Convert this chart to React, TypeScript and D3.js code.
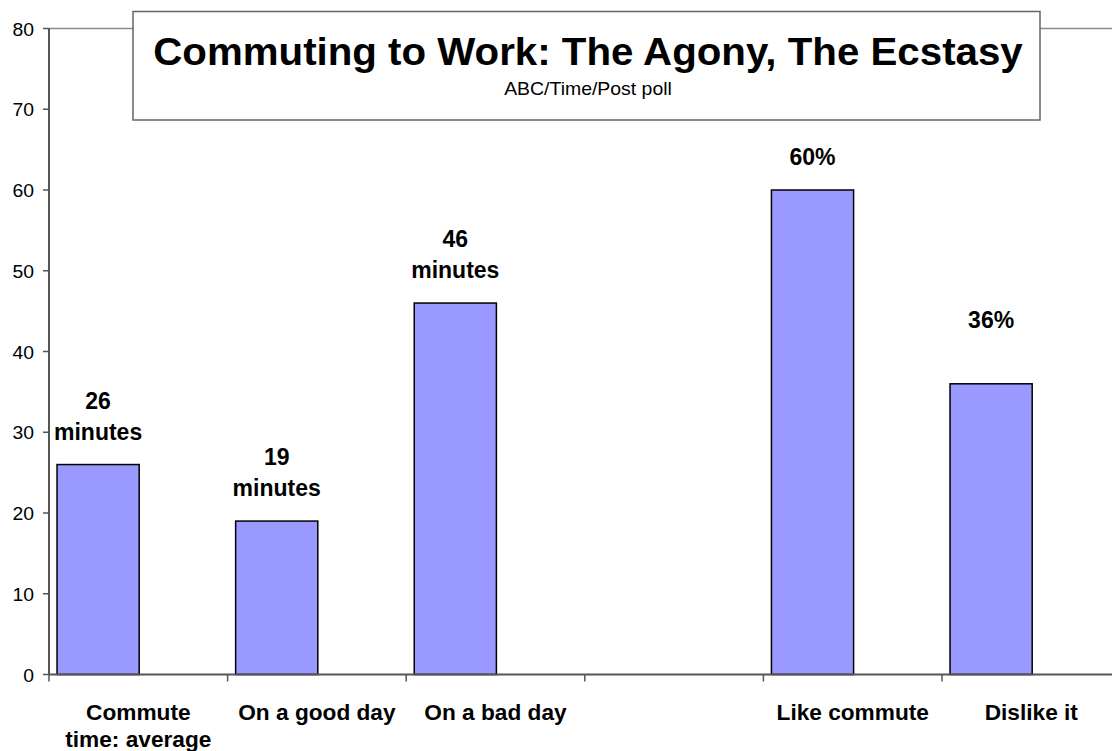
import React from "react";
import * as d3 from "d3";

const categories = ["Commute time: average", "On a good day", "On a bad day", "", "Like commute", "Dislike it"];
const categoryLines = [["Commute", "time: average"], ["On a good day"], ["On a bad day"], [], ["Like commute"], ["Dislike it"]];
const values: (number | null)[] = [26, 19, 46, null, 60, 36];
const dataLabels = [["26", "minutes"], ["19", "minutes"], ["46", "minutes"], [], ["60%"], ["36%", ""]];
const yTicks = [0, 10, 20, 30, 40, 50, 60, 70, 80];
const title = "Commuting to Work: The Agony, The Ecstasy";
const subtitle = "ABC/Time/Post poll";

const W = 1112;
const H = 751;
const FONT = "Arial, 'Liberation Sans', sans-serif";

const margin = { left: 49, top: 28.5, bottom: 751 - 674.5 };
const slot = 178.6;

export default function App() {
  const x = d3
    .scaleBand<string>()
    .domain(categories.map((_, i) => String(i)))
    .range([margin.left, margin.left + slot * categories.length])
    .paddingInner(0)
    .paddingOuter(0);
  const y = d3.scaleLinear().domain([0, 80]).range([H - margin.bottom, margin.top]);
  const bw = x.bandwidth();
  const barOff = bw * 0.045;
  const barW = bw * 0.46;

  const T = (
    tx: number,
    ty: number,
    s: string,
    opts: { size: number; sx?: number; bold?: boolean; anchor?: string; key?: string | number }
  ) => (
    <text
      key={opts.key}
      transform={`translate(${tx},${ty}) scale(${opts.sx ?? 1},1)`}
      fontFamily={FONT}
      fontSize={opts.size}
      fontWeight={opts.bold ? "bold" : "normal"}
      textAnchor={opts.anchor || "middle"}
      fill="#000"
    >
      {s}
    </text>
  );

  const x0 = margin.left;
  const xEnd = margin.left + slot * categories.length;

  return (
    <svg
      width={W}
      height={H}
      style={{ position: "absolute", left: 0, top: 0, background: "#fff" }}
    >
      <rect x={0} y={0} width={W} height={H} fill="#fff" />
      {/* top plot border */}
      <line x1={x0} x2={xEnd} y1={y(80)} y2={y(80)} stroke="#8a8a8a" strokeWidth={1.5} />

      {/* bars */}
      {values.map((v, i) =>
        v == null ? null : (
          <rect
            key={i}
            x={(x(String(i)) as number) + barOff}
            y={y(v)}
            width={barW}
            height={y(0) - y(v)}
            fill="#9999FF"
            stroke="#000"
            strokeWidth={1.5}
          />
        )
      )}

      {/* data labels */}
      {values.map((v, i) => {
        if (v == null) return null;
        const lines = dataLabels[i];
        const cx = (x(String(i)) as number) + barOff + barW / 2;
        const base = y(v) - 25;
        const lh = 31;
        return (
          <g key={"dl" + i}>
            {lines.map((s, j) =>
              T(cx, base - (lines.length - 1 - j) * lh, s, { size: 23, bold: true, key: j })
            )}
          </g>
        );
      })}

      {/* y axis */}
      <line x1={x0} x2={x0} y1={y(80)} y2={y(0)} stroke="#555" strokeWidth={2} />
      {yTicks.map((t) => (
        <g key={"yt" + t}>
          <line x1={x0 - 6} x2={x0} y1={y(t)} y2={y(t)} stroke="#555" strokeWidth={1.5} />
          {T(x0 - 15, y(t) + 7, String(t), { size: 19, sx: 1.02, anchor: "end" })}
        </g>
      ))}

      {/* x axis */}
      <line x1={x0} x2={xEnd} y1={y(0)} y2={y(0)} stroke="#555" strokeWidth={2} />
      {categories.map((_, i) => (
        <line
          key={"xt" + i}
          x1={x(String(i)) as number}
          x2={x(String(i)) as number}
          y1={y(0)}
          y2={y(0) + 7}
          stroke="#555"
          strokeWidth={1.5}
        />
      ))}
      {categoryLines.map((lines, i) => {
        const cx = (x(String(i)) as number) + bw / 2;
        return (
          <g key={"xl" + i}>
            {lines.map((s, j) => T(cx, 720 + j * 27, s, { size: 22, sx: 1.03, bold: true, key: j }))}
          </g>
        );
      })}

      {/* title box */}
      <rect x={133} y={11.5} width={907} height={108.5} fill="#fff" stroke="#666" strokeWidth={1.5} />
      {T(588, 65, title, { size: 38, sx: 1.06, bold: true })}
      {T(588, 95, subtitle, { size: 18, sx: 1.08 })}
    </svg>
  );
}
